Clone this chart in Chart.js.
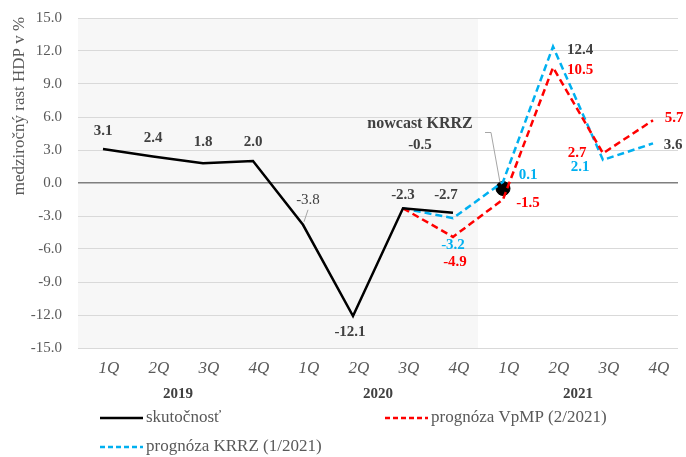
<!DOCTYPE html>
<html>
<head>
<meta charset="utf-8">
<script src="https://cdn.jsdelivr.net/npm/chart.js@4/dist/chart.umd.min.js"></script>
<style>
  html, body { margin: 0; padding: 0; background: #fff; }
  #wrap { width: 686px; height: 457px; }
</style>
</head>
<body>
<div id="wrap"><canvas id="gdp"></canvas></div>
<script>
// quarters and years
const quarters = ['1Q', '2Q', '3Q', '4Q', '1Q', '2Q', '3Q', '4Q', '1Q', '2Q', '3Q', '4Q'];
const years = ['2019', '2020', '2021'];
const yTicks = [-15, -12, -9, -6, -3, 0, 3, 6, 9, 12, 15];

// series
const actual = [3.1, 2.4, 1.8, 2.0, -3.8, -12.1, -2.3, -2.7, null, null, null, null];
const vpmp = [null, null, null, null, null, null, -2.3, -4.9, -1.5, 10.5, 2.7, 5.7];
const krrz = [null, null, null, null, null, null, -2.3, -3.2, 0.1, 12.4, 2.1, 3.6];
const nowcast = [null, null, null, null, null, null, null, null, -0.5, null, null, null];

const SERIF = "'Liberation Serif', 'DejaVu Serif', serif";
const GREY = '#595959';
const DARK = '#404040';
const RED = '#ff0000';
const BLUE = '#00b0f0';

// label placement relative to point (dx, dy), per series index
const actualLbl = [[0, -18], [0, -18], [0, -21], [0, -19], [5, -25], [-3, 16], [0, -13], [-7, -18]];
const vpmpLbl = {7: [2, 25], 8: [25, 4], 9: [27, 3], 10: [-26, 0], 11: [21, -2]};
const krrzLbl = {7: [0, 27], 8: [25, -7], 9: [27, 4], 10: [-23, 7], 11: [20, 2]};

const extras = {
  id: 'extras',
  beforeDraw(chart) {
    const {ctx, chartArea: a, scales: {x}} = chart;
    ctx.save();
    ctx.fillStyle = '#fff';
    ctx.fillRect(0, 0, chart.width, chart.height);
    // shaded past (2019-2020)
    const edge = (x.getPixelForValue(7) + x.getPixelForValue(8)) / 2;
    ctx.fillStyle = '#f7f7f7';
    ctx.fillRect(a.left, a.top, edge - a.left, a.bottom - a.top);
    ctx.restore();
  },
  afterDatasetsDraw(chart) {
    const {ctx, chartArea: a, scales: {x, y}} = chart;
    ctx.save();
    ctx.textAlign = 'center';
    ctx.textBaseline = 'middle';

    function lbl(i, v, d, color, bold) {
      const px = x.getPixelForValue(i), py = y.getPixelForValue(v);
      ctx.font = (bold ? 'bold ' : '') + '15px ' + SERIF;
      ctx.fillStyle = color;
      ctx.fillText(v.toFixed(1), px + d[0], py + d[1]);
    }
    actual.forEach((v, i) => {
      if (v === null) return;
      lbl(i, v, actualLbl[i], DARK, i !== 4);
    });
    // leader for -3.8
    ctx.strokeStyle = '#a6a6a6';
    ctx.lineWidth = 1;
    ctx.beginPath();
    ctx.moveTo(x.getPixelForValue(4) + 1, y.getPixelForValue(-3.8) - 3);
    ctx.lineTo(x.getPixelForValue(4) + 5, y.getPixelForValue(-3.8) - 15);
    ctx.stroke();

    Object.keys(vpmpLbl).forEach(k => lbl(+k, vpmp[k], vpmpLbl[k], RED, true));
    Object.keys(krrzLbl).forEach(k => {
      const c = (+k === 9 || +k === 11) ? DARK : BLUE;
      lbl(+k, krrz[k], krrzLbl[k], c, true);
    });

    // nowcast annotation
    const nx = x.getPixelForValue(8), ny = y.getPixelForValue(nowcast[8]);
    ctx.font = 'bold 16px ' + SERIF;
    ctx.fillStyle = DARK;
    ctx.fillText('nowcast KRRZ', nx - 83, ny - 65);
    ctx.font = 'bold 15px ' + SERIF;
    ctx.fillText(nowcast[8].toFixed(1), nx - 83, ny - 43);
    ctx.strokeStyle = '#a6a6a6';
    ctx.lineWidth = 1;
    ctx.beginPath();
    ctx.moveTo(nx - 18, ny - 56);
    ctx.lineTo(nx - 12, ny - 56);
    ctx.lineTo(nx - 3, ny - 6);
    ctx.stroke();

    // years
    ctx.font = 'bold 15px ' + SERIF;
    ctx.fillStyle = DARK;
    years.forEach((t, j) => {
      const cx = (x.getPixelForValue(j * 4 + 1) + x.getPixelForValue(j * 4 + 2)) / 2;
      ctx.fillText(t, cx, a.bottom + 46);
    });

    // y title
    ctx.save();
    ctx.translate(20, 106);
    ctx.rotate(-Math.PI / 2);
    ctx.font = '17px ' + SERIF;
    ctx.fillStyle = GREY;
    ctx.fillText('medziročný rast HDP v %', 0, 0);
    ctx.restore();

    // legend
    const items = [
      {t: 'skutočnosť', c: '#000', dash: [], lx: 100, ly: 418},
      {t: 'prognóza VpMP (2/2021)', c: RED, dash: [5, 3], lx: 385, ly: 418},
      {t: 'prognóza KRRZ (1/2021)', c: BLUE, dash: [5, 3], lx: 100, ly: 447}
    ];
    ctx.textAlign = 'left';
    ctx.font = '17px ' + SERIF;
    items.forEach(it => {
      ctx.strokeStyle = it.c;
      ctx.lineWidth = 2.5;
      ctx.setLineDash(it.dash);
      ctx.beginPath();
      ctx.moveTo(it.lx, it.ly);
      ctx.lineTo(it.lx + 43, it.ly);
      ctx.stroke();
      ctx.setLineDash([]);
      ctx.fillStyle = GREY;
      ctx.fillText(it.t, it.lx + 46, it.ly);
    });
    ctx.restore();
  }
};

new Chart(document.getElementById('gdp'), {
  type: 'line',
  plugins: [extras],
  data: {
    labels: quarters,
    datasets: [
      {label: 'skutočnosť', data: actual, borderColor: '#000', borderWidth: 2.5, pointRadius: 0, tension: 0},
      {label: 'prognóza VpMP (2/2021)', data: vpmp, borderColor: RED, borderWidth: 2.5, borderDash: [7, 4], pointRadius: 0, tension: 0},
      {label: 'prognóza KRRZ (1/2021)', data: krrz, borderColor: BLUE, borderWidth: 2.5, borderDash: [7, 4], pointRadius: 0, tension: 0},
      {label: 'nowcast KRRZ', data: nowcast, showLine: false, pointRadius: 7, pointBackgroundColor: '#000', pointBorderColor: '#000'}
    ]
  },
  options: {
    responsive: true,
    maintainAspectRatio: false,
    animation: false,
    layout: {padding: {left: 0, right: 8, top: 18, bottom: 0}},
    plugins: {legend: {display: false}, tooltip: {enabled: false}},
    scales: {
      x: {
        offset: true,
        grid: {display: false},
        border: {display: false},
        ticks: {color: GREY, padding: 2, labelOffset: 6, maxRotation: 0, font: {family: SERIF, size: 17, style: 'italic'}},
        afterFit(s) { s.height = 109; s.paddingLeft = 0; s.paddingRight = 0; }
      },
      y: {
        min: -15, max: 15,
        afterBuildTicks(s) { s.ticks = yTicks.map(v => ({value: v})); },
        border: {display: false},
        grid: {
          drawTicks: false,
          color: c => c.tick && c.tick.value === 0 ? '#7f7f7f' : '#d9d9d9',
          lineWidth: c => c.tick && c.tick.value === 0 ? 1.5 : 1
        },
        ticks: {color: GREY, padding: 16, font: {family: SERIF, size: 15}, callback: v => Number(v).toFixed(1)},
        afterFit(s) { s.width = 78; s.paddingTop = 0; s.paddingBottom = 0; }
      }
    }
  }
});
</script>
</body>
</html>
